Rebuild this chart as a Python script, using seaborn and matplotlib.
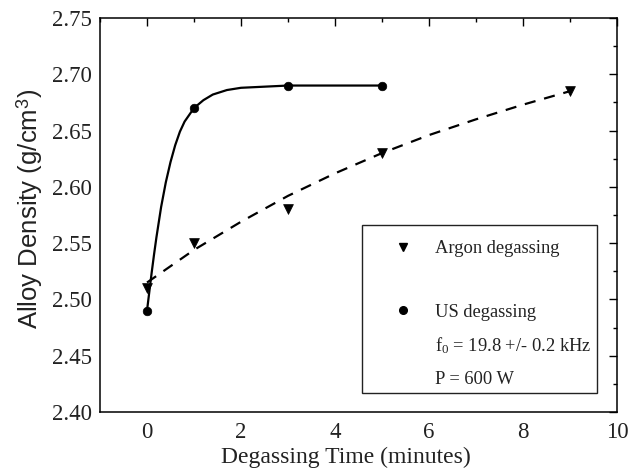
import matplotlib
matplotlib.use("Agg")
import matplotlib.pyplot as plt
import seaborn as sns
import pandas as pd
from matplotlib.lines import Line2D
from matplotlib.patches import Rectangle
from matplotlib.ticker import MultipleLocator

# ---- data ----
argon_time = [0, 1, 3, 5, 9]
argon_density = [2.51, 2.55, 2.58, 2.63, 2.685]
us_time = [0, 1, 3, 5]
us_density = [2.49, 2.67, 2.69, 2.69]

# fitted curves
us_fit_time = [0, 0.05, 0.1, 0.15, 0.2, 0.3, 0.4, 0.5, 0.6, 0.7, 0.8, 1.0, 1.2, 1.4, 1.7, 2.0, 2.5, 3.0, 5.0]
us_fit_density = [2.490, 2.507, 2.524, 2.540, 2.555, 2.582, 2.604, 2.622, 2.637, 2.649, 2.658, 2.670, 2.677, 2.682, 2.686, 2.688, 2.689, 2.690, 2.690]
argon_fit_time = [0, 1, 2, 3, 4, 5, 6, 7, 8, 9]
argon_fit_density = [2.515, 2.544, 2.569, 2.592, 2.612, 2.630, 2.646, 2.660, 2.673, 2.685]

x_ticks = [0, 2, 4, 6, 8, 10]
y_ticks = [2.40, 2.45, 2.50, 2.55, 2.60, 2.65, 2.70, 2.75]

legend_labels = ["Argon degassing", " ", "US degassing",
                 r"f$_{0}$ = 19.8 +/- 0.2 kHz", "P = 600 W"]

SERIF = ["Liberation Serif", "DejaVu Serif"]
SANS = ["Liberation Sans", "DejaVu Sans"]

sns.set_theme(style="white")
plt.rcParams["font.family"] = SERIF
plt.rcParams["mathtext.fontset"] = "custom"
plt.rcParams["mathtext.rm"] = "Liberation Serif"
plt.rcParams["mathtext.it"] = "Liberation Serif:italic"
plt.rcParams["mathtext.sf"] = "Liberation Sans"

fig = plt.figure(figsize=(6.31, 4.73), dpi=100)
ax = fig.add_axes([100 / 631, 1 - 412 / 473, 517 / 631, 394 / 473])

us_fit = pd.DataFrame({"t": us_fit_time, "d": us_fit_density})
ar_fit = pd.DataFrame({"t": argon_fit_time, "d": argon_fit_density})
ar = pd.DataFrame({"t": argon_time, "d": argon_density})
us = pd.DataFrame({"t": us_time, "d": us_density})

sns.lineplot(data=us_fit, x="t", y="d", ax=ax, color="black", lw=1.6,
             sort=False, estimator=None)
sns.lineplot(data=ar_fit, x="t", y="d", ax=ax, color="black", lw=1.6,
             sort=False, estimator=None, dashes=False)
ax.lines[-1].set_dashes((5, 4))
sns.scatterplot(data=ar, x="t", y="d", ax=ax, marker="v", s=50,
                color="black", edgecolor="black", linewidth=0.5, zorder=5)
sns.scatterplot(data=us, x="t", y="d", ax=ax, marker="o", s=38,
                color="black", edgecolor="black", linewidth=0.5, zorder=5)

ax.set_xlim(-1, 10)
ax.set_ylim(2.40, 2.75)
ax.xaxis.set_minor_locator(MultipleLocator(1))
ax.yaxis.set_minor_locator(MultipleLocator(0.025))
ax.tick_params(which="both", direction="in", top=True, right=True,
               colors="black", width=1.0)
ax.tick_params(which="major", length=5.5)
ax.tick_params(which="minor", length=3)
ax.tick_params(axis="x", which="major", pad=7)
ax.tick_params(axis="y", which="major", pad=6)
ax.set_xticks(x_ticks)
ax.set_xticklabels([str(v) for v in x_ticks], family=SERIF, fontsize=16.5,
                   color="#222222")
ax.set_yticks(y_ticks)
ax.set_yticklabels([f"{v:.2f}" for v in y_ticks], family=SERIF,
                   fontsize=16.5, color="#222222")
for sp in ax.spines.values():
    sp.set_visible(True)
    sp.set_color("black")
    sp.set_linewidth(1.1)

ax.set_xlabel("Degassing Time (minutes)", fontsize=17, labelpad=3,
              family=SERIF, color="#222222")
ax.xaxis.label.set_x((346 - 100) / 517)
ax.set_ylabel(r"Alloy Density (g/cm$^{\mathsf{3}}$)", fontsize=18.5,
              family=SANS, labelpad=5, color="#222222")
ax.yaxis.label.set_y((412 - 209) / 394)

handles = [
    Line2D([], [], ls="none", marker="v", color="black", markersize=6.3),
    Line2D([], [], ls="none", marker="none"),
    Line2D([], [], ls="none", marker="o", color="black", markersize=5.5),
    Line2D([], [], ls="none", marker="none"),
    Line2D([], [], ls="none", marker="none"),
]
leg = ax.legend(handles, legend_labels, loc="upper left",
                bbox_to_anchor=((384.5 - 100) / 517, (412 - 240) / 394),
                frameon=False, borderpad=0, borderaxespad=0,
                handlelength=2.0, handletextpad=0.73, labelspacing=0.8,
                numpoints=1, prop={"family": SERIF, "size": 13.3})
for t in leg.get_texts():
    t.set_color("#222222")
ax.add_patch(Rectangle(((362 - 100) / 517, (412 - 393) / 394),
                       (597 - 362) / 517, (393 - 225) / 394,
                       transform=ax.transAxes, fill=False,
                       edgecolor="#222222", lw=1.0, zorder=6))

fig.canvas.draw()
for lbl in ax.get_xticklabels() + ax.get_yticklabels():
    lbl.set_family(SERIF)
fig.savefig("out.png", dpi=100)
